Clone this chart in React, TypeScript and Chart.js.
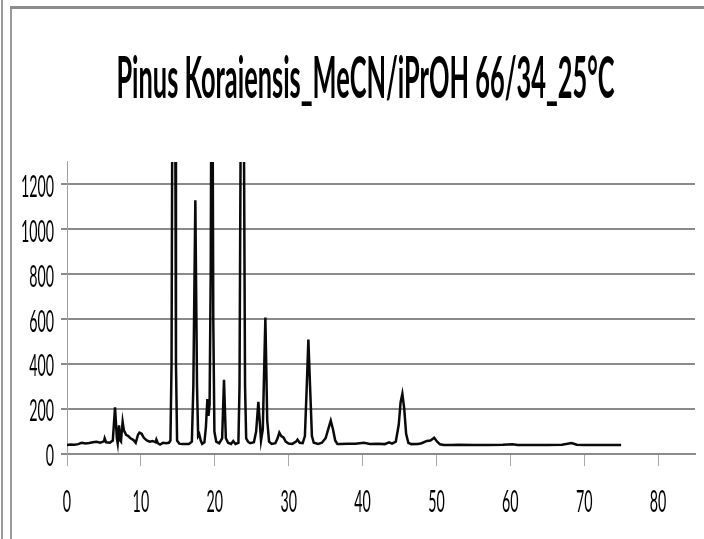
import React, { useEffect, useRef } from 'react';
import { Chart, registerables } from 'chart.js';

Chart.register(...registerables);

const TITLE = 'Pinus Koraiensis_MeCN/iPrOH 66/34_25°C';
const X_TICKS = [0, 10, 20, 30, 40, 50, 60, 70, 80];
const Y_TICKS = [0, 200, 400, 600, 800, 1000, 1200];

const RETENTION_MIN = [
  0, 0.5, 1, 1.5, 2, 2.5, 3, 3.5, 4, 4.5,
  5, 5.1, 5.3, 5.8, 6.2, 6.5, 6.75, 6.86, 7.04, 7.2,
  7.3, 7.53, 7.7, 8, 8.3, 8.6, 9, 9.3, 9.6, 9.8,
  10.1, 10.4, 10.8, 11.2, 11.6, 12, 12.1, 12.3, 12.6, 13,
  13.4, 13.8, 14, 14.15, 14.25, 14.45, 14.65, 14.75, 14.9, 15.2,
  15.6, 16, 16.5, 16.9, 17.1, 17.37, 17.6, 17.75, 17.9, 18.1,
  18.3, 18.6, 18.8, 19, 19.15, 19.3, 19.45, 19.62, 19.8, 19.95,
  20.2, 20.6, 21, 21.25, 21.5, 21.8, 22.2, 22.5, 22.8, 23.2,
  23.35, 23.5, 23.73, 23.95, 24.1, 24.25, 24.5, 24.8, 25.3, 25.6,
  25.9, 26.1, 26.26, 26.5, 26.85, 27.1, 27.35, 27.7, 28.2, 28.5,
  28.74, 29, 29.3, 29.6, 30, 30.5, 31, 31.2, 31.5, 31.9,
  32.2, 32.45, 32.67, 32.9, 33.15, 33.4, 34, 34.5, 35, 35.4,
  35.7, 36, 36.3, 36.6, 37, 38, 39, 40.2, 41, 42,
  43, 43.6, 44, 44.5, 44.9, 45.15, 45.39, 45.65, 45.9, 46.2,
  46.6, 47.5, 48, 48.7, 49.2, 49.7, 50.1, 50.5, 51, 52,
  53, 55, 57, 59, 60.3, 61, 63, 65, 67, 68.3,
  69, 70, 72, 74, 75,
];

const SIGNAL = [
  40, 42, 41, 44, 50, 47, 49, 52, 54, 50,
  56, 70, 52, 50, 60, 208, 70, 48, 128, 60,
  56, 143, 105, 85, 80, 70, 62, 50, 85, 95,
  90, 72, 60, 55, 58, 52, 64, 48, 42, 50,
  48, 50, 60, 400, 1500, 2500, 1500, 400, 60, 46,
  44, 45, 45, 55, 300, 1130, 300, 80, 88, 60,
  45, 52, 120, 245, 170, 220, 800, 2400, 600, 100,
  55, 48, 70, 330, 70, 50, 45, 58, 45, 50,
  300, 1400, 2600, 1400, 300, 70, 55, 48, 52, 100,
  232, 140, 60, 110, 608, 150, 55, 45, 48, 70,
  95, 80, 74, 55, 47, 45, 55, 64, 50, 48,
  80, 300, 510, 300, 80, 50, 45, 50, 70, 115,
  148, 110, 60, 45, 45, 46, 46, 50, 45, 46,
  44, 52, 46, 55, 130, 230, 268, 200, 90, 50,
  44, 45, 48, 58, 60, 72, 55, 43, 40, 40,
  41, 40, 40, 41, 43, 40, 40, 40, 41, 49,
  41, 40, 40, 40, 40,
];

const FONT = 'Lato, "Open Sans", sans-serif';

export default function App() {
  const ref = useRef<HTMLCanvasElement>(null);

  useEffect(() => {
    const canvas = ref.current!;
    const ctx = canvas.getContext('2d')!;

    // measurements to mimic the tall, condensed Excel lettering
    const mc = document.createElement('canvas').getContext('2d')!;
    mc.textAlign = 'left';
    mc.textBaseline = 'middle';
    mc.font = `bold 100px ${FONT}`;
    const m100 = mc.measureText(TITLE);
    const fs = (100 * 496) / (m100.actualBoundingBoxLeft + m100.actualBoundingBoxRight);
    mc.font = `bold ${fs}px ${FONT}`;
    const mt = mc.measureText(TITLE);
    const mP = mc.measureText('P');
    const co = (mt.actualBoundingBoxDescent - mt.actualBoundingBoxAscent) / 2;
    const kTitle = 40 / (mP.actualBoundingBoxAscent + mP.actualBoundingBoxDescent);
    const titleY = 98.3 - co - kTitle * (mP.actualBoundingBoxDescent - co);
    const padTop = titleY - 0.6 * fs;
    const padBottom = 162 - padTop - 1.2 * fs;
    const padLeft = 10;
    const padRight = 9;
    const titleShift = 365.5 - (padLeft + (704 - padRight)) / 2;

    mc.font = `100px ${FONT}`;
    const mw = mc.measureText('1200');
    const ts = (100 * 31.5) / (mw.actualBoundingBoxLeft + mw.actualBoundingBoxRight);
    mc.font = `${ts}px ${FONT}`;
    const md = mc.measureText('80');
    const kTick = 21.5 / (md.actualBoundingBoxAscent + md.actualBoundingBoxDescent);
    const tickDrop = 2;
    const xPad = 501.5 - 466 - 0.6 * ts - tickDrop;

    const origFill = ctx.fillText;
    (ctx as any).fillText = function (text: string, x: number, y: number, maxWidth?: number) {
      const isTitle = /bold|700/.test(ctx.font);
      const k = isTitle ? kTitle : kTick;
      const m = ctx.measureText(text);
      const c = y + (m.actualBoundingBoxDescent - m.actualBoundingBoxAscent) / 2;
      ctx.save();
      ctx.translate(x + (isTitle ? titleShift : 0), c + (isTitle ? 0 : tickDrop));
      ctx.scale(1, k);
      if (maxWidth === undefined) origFill.call(ctx, text, 0, y - c);
      else origFill.call(ctx, text, 0, y - c, maxWidth);
      ctx.restore();
    };

    const points = RETENTION_MIN.map((x, i) => ({ x, y: SIGNAL[i] }));

    const chart = new Chart(canvas, {
      type: 'line',
      data: {
        datasets: [
          {
            data: points,
            borderColor: '#0a0a0a',
            borderWidth: 2.5,
            pointRadius: 0,
            tension: 0,
            fill: false,
          },
        ],
      },
      options: {
        responsive: false,
        animation: false,
        devicePixelRatio: 1,
        layout: { padding: { left: padLeft, right: padRight, top: 0, bottom: 0 } },
        plugins: {
          legend: { display: false },
          tooltip: { enabled: false },
          title: {
            display: true,
            text: TITLE,
            color: '#000000',
            font: { family: FONT, size: fs, weight: 'bold', lineHeight: 1.2 },
            padding: { top: padTop, bottom: padBottom },
          },
        },
        scales: {
          x: {
            type: 'linear',
            min: 0,
            max: 85,
            afterBuildTicks: (s: any) => {
              s.ticks = X_TICKS.map((v) => ({ value: v }));
            },
            afterFit: (s: any) => {
              s.height = 85;
            },
            grid: {
              display: true,
              drawOnChartArea: false,
              drawTicks: true,
              tickLength: 12,
              tickColor: '#a8a8a8',
              tickWidth: 1,
            },
            border: { display: true, color: '#8a8a8a', width: 2 },
            ticks: {
              font: { family: FONT, size: ts },
              color: '#000000',
              padding: xPad,
              maxRotation: 0,
              autoSkip: false,
              callback: (v: any) => String(v),
            },
          },
          y: {
            type: 'linear',
            min: 0,
            max: 1300,
            afterBuildTicks: (s: any) => {
              s.ticks = Y_TICKS.map((v) => ({ value: v }));
            },
            afterFit: (s: any) => {
              s.width = 67 - padLeft;
            },
            grid: {
              color: '#8a8a8a',
              lineWidth: 2,
              drawTicks: true,
              tickLength: 6,
            },
            border: { display: true, color: '#a0a0a0', width: 1 },
            ticks: {
              font: { family: FONT, size: ts },
              color: '#000000',
              padding: 7,
              autoSkip: false,
              callback: (v: any) => String(v),
            },
          },
        },
      },
    } as any);

    return () => {
      chart.destroy();
      (ctx as any).fillText = origFill;
    };
  }, []);

  return (
    <div style={{ position: 'fixed', left: 0, top: 0, width: 704, height: 539, background: '#ffffff', overflow: 'hidden' }}>
      <canvas ref={ref} width={704} height={539} style={{ position: 'absolute', left: 0, top: 0, width: 704, height: 539 }} />
      <div style={{ position: 'absolute', left: 1, top: 0, width: 2, height: 539, background: '#9a9a9a' }} />
      <div style={{ position: 'absolute', left: 10, top: 6, width: 2, height: 533, background: '#9a9a9a' }} />
      <div style={{ position: 'absolute', left: 10, top: 6, width: 694, height: 3, background: '#8c8c8c' }} />
    </div>
  );
}
